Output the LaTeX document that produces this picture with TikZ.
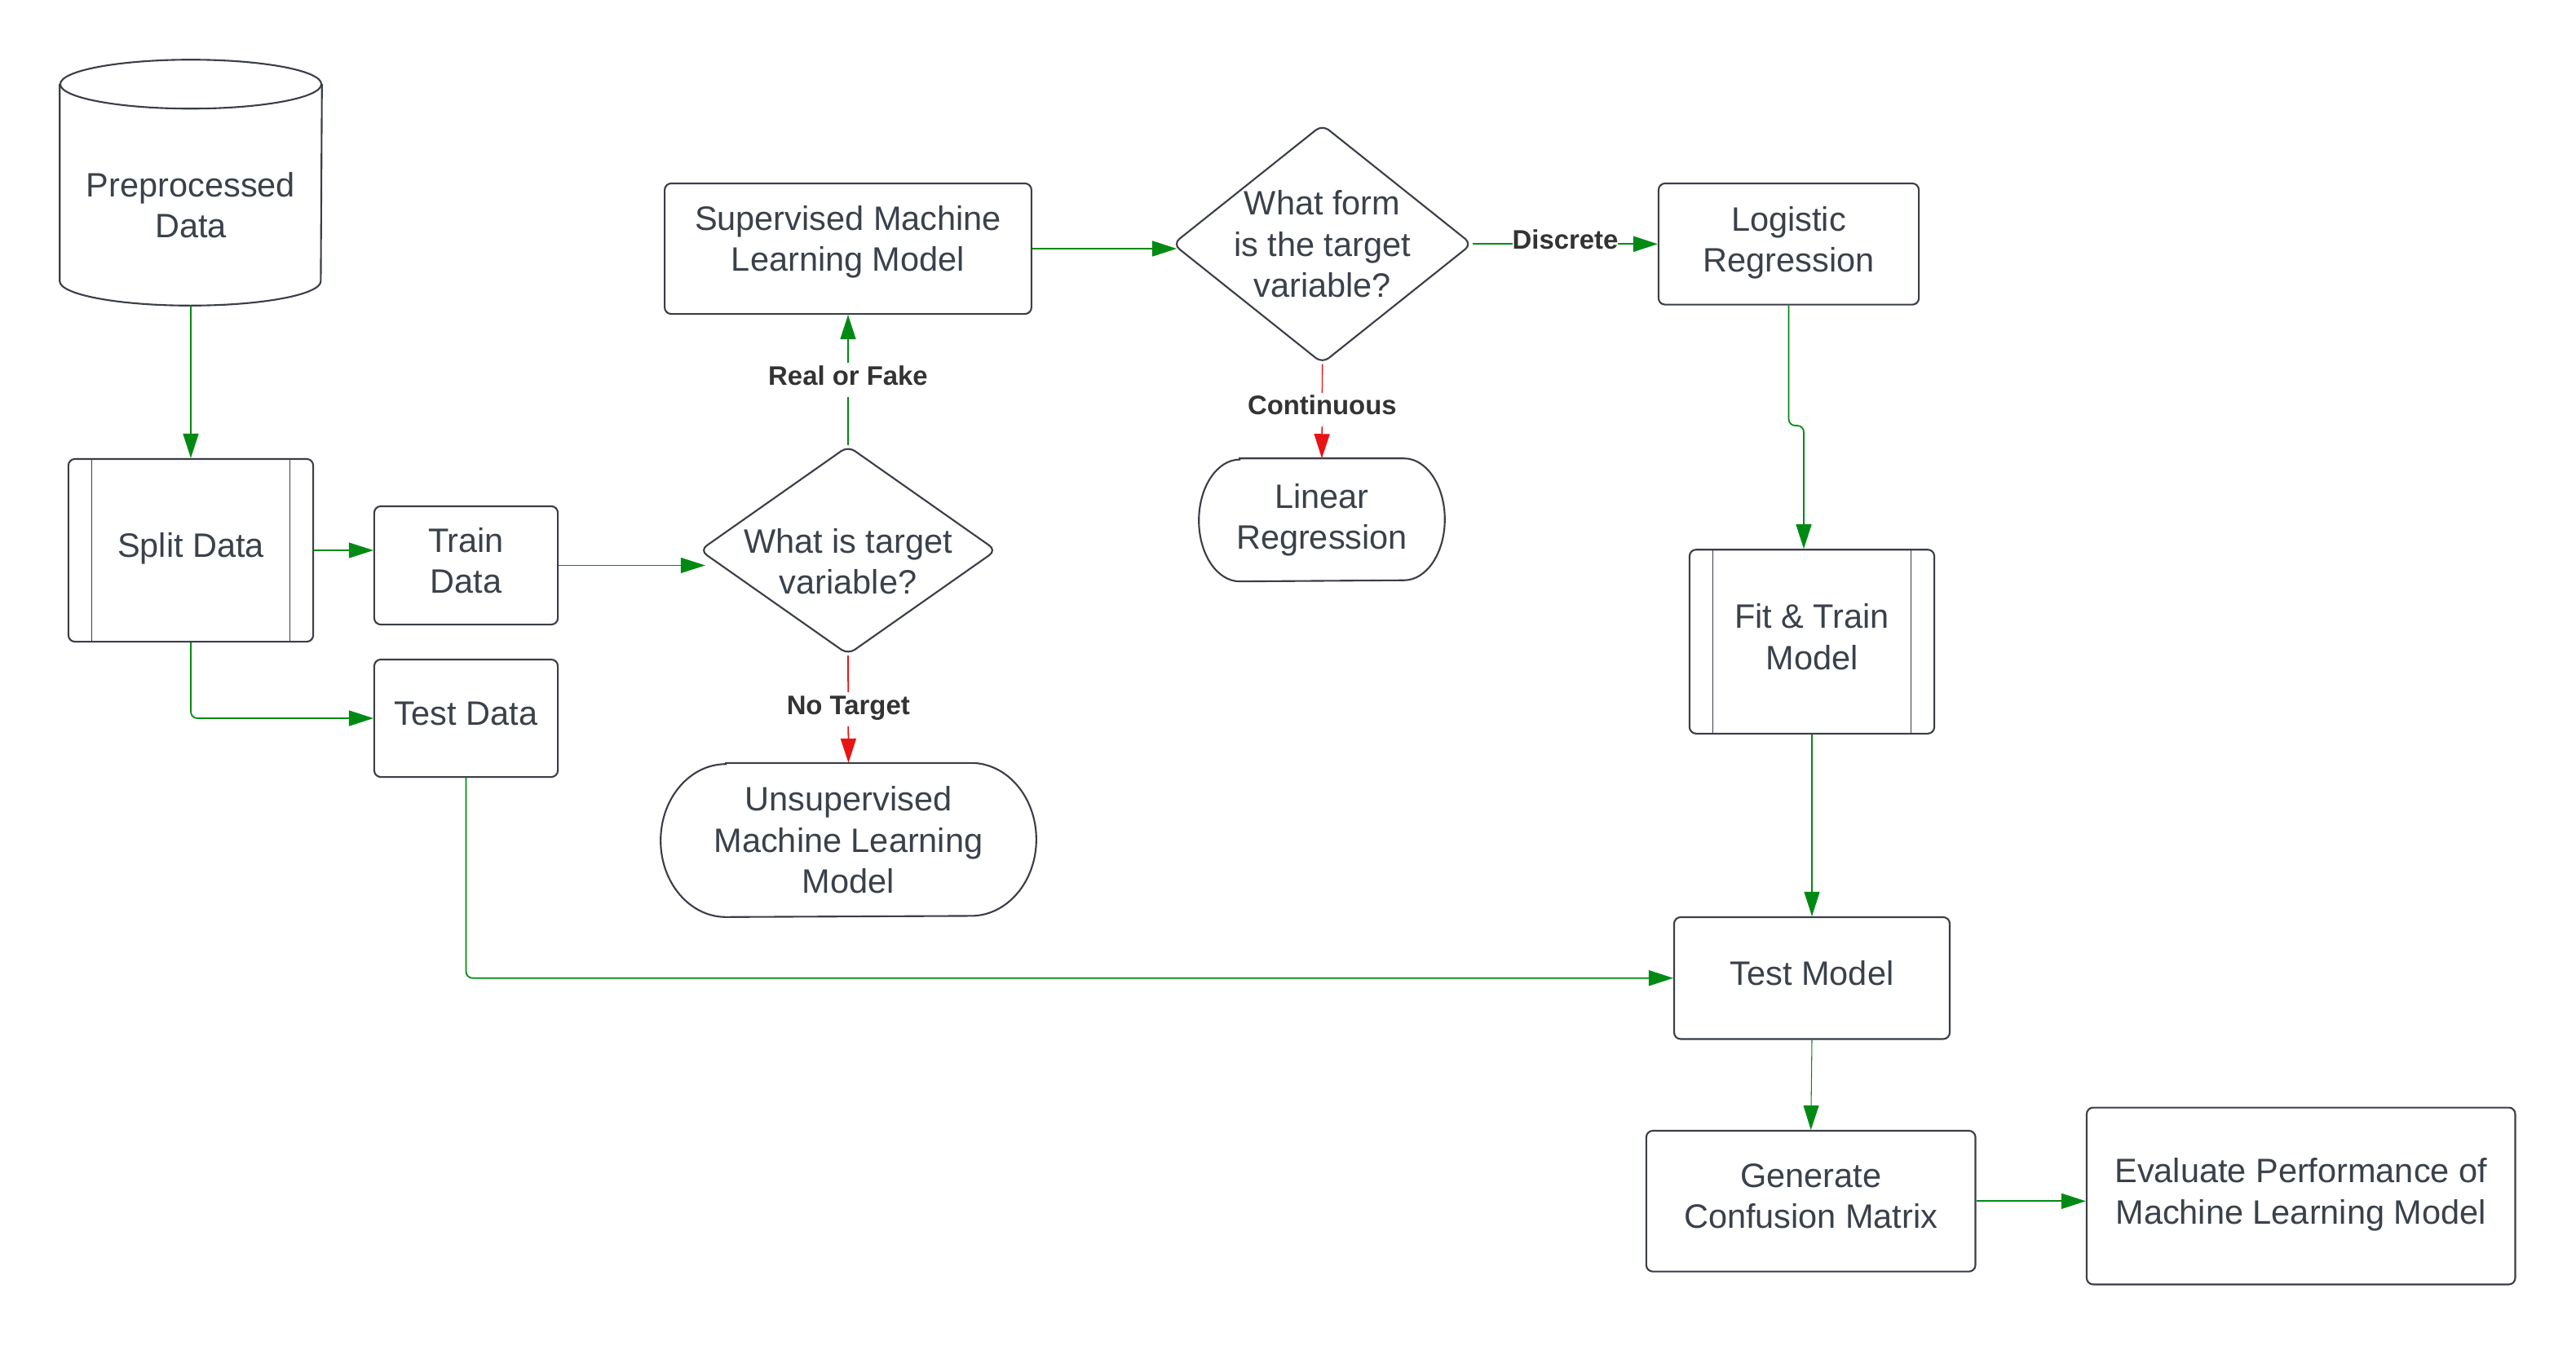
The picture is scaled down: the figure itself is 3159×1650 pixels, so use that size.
\documentclass[tikz,border=0pt]{standalone}
\usepackage{fontspec}
\setmainfont{Liberation Sans}
\usetikzlibrary{arrows.meta,shapes.geometric}
\definecolor{gr}{RGB}{0,138,20}
\definecolor{rd}{RGB}{232,20,20}
\definecolor{bd}{RGB}{58,62,72}
\definecolor{tx}{RGB}{58,65,74}
\definecolor{lb}{RGB}{51,51,51}
\newcommand\termoutline[3]{%
  \draw[bdline] ([xshift=#2]#1.north west) -- ([xshift=-#2]#1.north east)
    arc[start angle=90,end angle=-90,x radius=#2,y radius=#3]
    -- ([xshift=#2]#1.south west)
    arc[start angle=270,end angle=90,x radius=#2,y radius=#3] -- cycle;}
\begin{document}
\begin{tikzpicture}[x=0.01cm,y=-0.01cm,
  txt/.style={text=tx,font=\fontsize{11.8}{14.3}\selectfont,align=center,inner sep=0pt},
  bdline/.style={draw=bd,line width=0.6pt},
  box/.style={txt,bdline,rounded corners=0.08cm,fill=white,
    execute at end node={\rule[-3.5pt]{0pt}{0pt}}},
  dia/.style={bdline,diamond,rounded corners=0.1cm,inner sep=0pt},
  flow/.style={draw=gr,color=gr,line width=0.5pt,-{Triangle[length=0.3cm,width=0.19cm]}},
  thinflow/.style={flow,line width=0.3pt},
  noflow/.style={flow,draw=rd,color=rd},
  lab/.style={fill=white,text=lb,font=\bfseries\fontsize{9.35}{11}\selectfont,
    text height=6.8pt,text depth=3pt,inner xsep=1pt,inner ysep=1pt},
]
\useasboundingbox[fill=white] (0,0) rectangle (3159,1650);

% cylinder
\node[minimum width=3.2cm,minimum height=3.0cm,inner sep=0pt] (pre) at (234,224) {};
\draw[bdline,fill=white] ([yshift=-0.3cm]pre.north west) -- ([yshift=0.3cm]pre.south west)
  arc[start angle=180,end angle=360,x radius=1.6cm,y radius=0.3cm] -- ([yshift=-0.3cm]pre.north east);
\draw[bdline] ([yshift=-0.3cm]pre.north) ellipse[x radius=1.6cm,y radius=0.3cm];
\node[txt] (pretext) at (234,252) {Preprocessed\\Data};

% split data
\node[box,minimum width=3.0cm,minimum height=2.24cm] (split) at (234,675) {Split Data};
\draw[draw=bd,line width=0.45pt] ([xshift=0.295cm]split.north west) -- ([xshift=0.295cm]split.south west);
\draw[draw=bd,line width=0.45pt] ([xshift=-0.295cm]split.north east) -- ([xshift=-0.295cm]split.south east);

\node[box,minimum width=2.25cm,minimum height=1.45cm] (train) at (571.5,693.5) {Train\\Data};
\node[box,minimum width=2.25cm,minimum height=1.44cm] (test) at (571.5,881) {Test Data};

% diamond 1
\node[dia,minimum width=3.64cm,minimum height=2.56cm] (d1) at (1040,675) {};
\node[txt] (d1t) at (1040,689) {What is target\\variable?};

\node[box,minimum width=4.495cm,minimum height=1.6cm,
  execute at end node={\rule[-7pt]{0pt}{0pt}}] (sup) at (1040,305) {Supervised Machine\\Learning Model};

\node[txt,minimum width=4.59cm,minimum height=1.875cm] (unsup) at (1040.5,1030.3) {Unsupervised\\Machine Learning\\Model};
\termoutline{unsup}{0.8cm}{0.9375cm}

% diamond 2
\node[dia,minimum width=3.67cm,minimum height=2.93cm] (d2) at (1621.6,299.3) {};
\node[txt] (d2t) at (1621.6,299.3) {What form\\is the target\\variable?};

\node[txt,minimum width=3.0cm,minimum height=1.494cm] (lin) at (1621,637.7) {Linear\\Regression};
\termoutline{lin}{0.5cm}{0.747cm}

\node[box,minimum width=3.19cm,minimum height=1.486cm] (logi) at (2193.5,299.3) {Logistic\\Regression};

\node[box,minimum width=3.0cm,minimum height=2.255cm] (fit) at (2222,787) {Fit \& Train\\Model};
\draw[draw=bd,line width=0.45pt] ([xshift=0.295cm]fit.north west) -- ([xshift=0.295cm]fit.south west);
\draw[draw=bd,line width=0.45pt] ([xshift=-0.295cm]fit.north east) -- ([xshift=-0.295cm]fit.south east);

\node[box,minimum width=3.378cm,minimum height=1.494cm] (tm) at (2222,1199.7) {Test Model};
\node[box,minimum width=4.034cm,minimum height=1.726cm] (gen) at (2220.7,1473.3) {Generate\\Confusion Matrix};
\node[box,minimum width=5.253cm,minimum height=2.168cm] (eval) at (2821.7,1467) {Evaluate Performance of\\Machine Learning Model};

% connectors
\draw[flow] (pre.south) -- (split.north);
\draw[thinflow] (split.east) -- (train.west |- split.east);
\draw[flow,rounded corners=0.08cm] (split.south) |- (test.west);
\draw[thinflow,shorten >=-0.08cm] (train.east) -- (train.east -| d1.west);
\draw[flow] (d1.north) -- node[lab] (lrf) {Real or Fake} (sup.south);
\draw[noflow] (d1.south) -- node[lab] (lnt) {No Target} (unsup.north);
\draw[flow,shorten >=-0.06cm] (sup.east) -- (sup.east -| d2.west);
\draw[flow,line width=0.65pt] (d2.east) -- node[lab,inner xsep=0pt] (ldis) {Discrete} (logi.west);
\draw[noflow,line width=0.4pt] (d2.south) -- node[lab,pos=0.48] (lcon) {Continuous} (lin.north);
\coordinate (jog) at (2212,522);
\draw[flow,rounded corners=0.08cm] (logi.south) |- (jog) -- (jog |- fit.north);
\draw[thinflow] (fit.south) -- (tm.north);
\draw[flow,rounded corners=0.08cm] (test.south) |- (tm.west);
\draw[thinflow] (tm.south) -- (gen.north);
\draw[flow] (gen.east) -- (gen.east -| eval.west);
\end{tikzpicture}
\end{document}
